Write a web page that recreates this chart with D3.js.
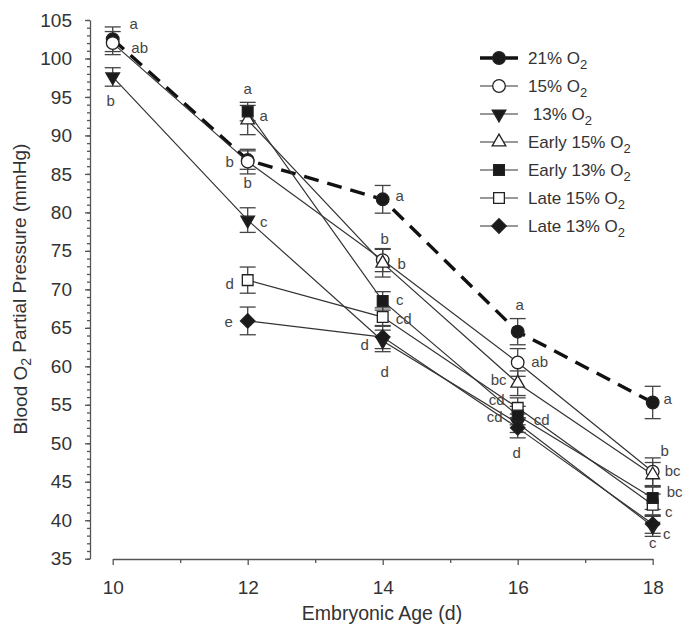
<!DOCTYPE html>
<html>
<head>
<meta charset="utf-8">
<script src="https://cdn.jsdelivr.net/npm/d3@7"></script>
<style>
  body { margin: 0; background: #fff; }
  svg { font-family: Arial, "Liberation Sans", sans-serif; }
</style>
</head>
<body>
<div id="chart"></div>
<script>
// data (mean, SEM, significance letters)
const days = [10, 12, 14, 16, 18];
const yTicks = [35, 40, 45, 50, 55, 60, 65, 70, 75, 80, 85, 90, 95, 100, 105];

const o21 = [102.5, 86.8, 81.7, 64.5, 55.3];
const o15 = [102.0, 86.6, 73.8, 60.5, 46.3];
const o13 = [97.6, 79.0, 63.3, 52.6, 39.2];
const early15 = [null, 92.0, 73.4, 57.8, 45.9];
const early13 = [null, 93.1, 68.5, 53.6, 42.9];
const late15 = [null, 71.2, 66.4, 54.6, 42.0];
const late13 = [null, 65.9, 63.8, 52.0, 39.5];

const err21 = [1.6, 1.2, 1.8, 1.7, 2.1];
const err15 = [1.5, 1.6, 1.5, 1.8, 1.8];
const err13 = [1.2, 1.6, 1.4, 1.2, 1.3];
const errE15 = [null, 1.9, 1.8, 1.6, 1.6];
const errE13 = [null, 1.2, 1.2, 1.2, 1.5];
const errL15 = [null, 1.7, 1.2, 1.3, 1.4];
const errL13 = [null, 1.8, 1.5, 1.3, 1.2];

const sig21 = ["a", "b", "a", "a", "a"];
const sig15 = ["ab", "b", "b", "ab", "b"];
const sig13 = ["b", "c", "d", "cd", "c"];
const sigE15 = [null, "a", "b", "bc", "bc"];
const sigE13 = [null, "a", "c", "cd", "bc"];
const sigL15 = [null, "d", "cd", "cd", "c"];
const sigL13 = [null, "e", "d", "d", "c"];

const labels = ["21%", "15%", " 13%", "Early 15%", "Early 13%", "Late 15%", "Late 13%"];

// letter placement relative to each point (layout only)
const sigOffsets = [
  [[21, -14], [-18, 3], [17, -2], [2, -26], [15, -2]],
  [[27, 6], [0, 22], [2, -20], [22, 1], [12, -20]],
  [[-2, 25], [16, 3], [2, 32], [-23, -5], [0, 18]],
  [null, [16, -3], [19, 2], [-19, -2], [20, -3]],
  [null, [0, -22], [17, 0], [24, 5], [22, -5]],
  [null, [-18, 5], [21, 3], [-21, -7], [16, 8]],
  [null, [-19, 2], [-18, 9], [-1, 26], [14, 11]]
];

const series = [
  { label: labels[0], values: o21, errs: err21, sig: sig21, marker: "circle", fill: "#1a1a1a", dashed: true },
  { label: labels[1], values: o15, errs: err15, sig: sig15, marker: "circle", fill: "#fff" },
  { label: labels[2], values: o13, errs: err13, sig: sig13, marker: "tridown", fill: "#1a1a1a" },
  { label: labels[3], values: early15, errs: errE15, sig: sigE15, marker: "triup", fill: "#fff" },
  { label: labels[4], values: early13, errs: errE13, sig: sigE13, marker: "square", fill: "#1a1a1a" },
  { label: labels[5], values: late15, errs: errL15, sig: sigL15, marker: "square", fill: "#fff" },
  { label: labels[6], values: late13, errs: errL13, sig: sigL13, marker: "diamond", fill: "#1a1a1a" }
];
// markers are stacked in this order (late 15% sits under early 13%)
const drawOrder = [0, 1, 2, 3, 5, 4, 6];

const width = 685, height = 627;
const svg = d3.select("#chart").append("svg")
  .attr("width", width)
  .attr("height", height);

const x = d3.scaleLinear().domain([10, 18]).range([112.7, 652.7]);
const y = d3.scaleLinear().domain([35, 105]).range([558.7, 20]);

// axes
const axisColor = "#555";
svg.append("g").attr("transform", "translate(90,0)")
  .call(d3.axisLeft(y).tickValues(yTicks).tickSize(5).tickSizeOuter(0).tickPadding(13));
svg.append("g").attr("transform", "translate(90,0)")
  .call(d3.axisLeft(y).tickValues(d3.range(35, 106)).tickSize(3).tickFormat(""))
  .call(g => g.select(".domain").remove());

svg.append("g").attr("transform", "translate(0,559)")
  .call(d3.axisBottom(x).tickValues(days).tickSize(6).tickSizeOuter(0).tickPadding(16));
svg.append("g").attr("transform", "translate(0,559)")
  .call(d3.axisBottom(x).tickValues([11, 13, 15, 17]).tickSize(4).tickFormat(""))
  .call(g => g.select(".domain").remove());

svg.selectAll(".domain, .tick line").attr("stroke", axisColor).attr("stroke-width", 1.3);
svg.selectAll(".tick text").attr("fill", "#333").style("font-size", "19px");

// axis titles
svg.append("text")
  .attr("x", 382).attr("y", 620)
  .attr("text-anchor", "middle")
  .attr("fill", "#333")
  .style("font-size", "19.5px")
  .text("Embryonic Age (d)");

const yTitle = svg.append("text")
  .attr("transform", "translate(27,289) rotate(-90)")
  .attr("text-anchor", "middle")
  .attr("fill", "#333")
  .style("font-size", "19px");
yTitle.append("tspan").text("Blood O");
yTitle.append("tspan").attr("dy", "0.3em").style("font-size", "14px").text("2");
yTitle.append("tspan").attr("dy", "-0.3em").text(" Partial Pressure (mmHg)");

// markers
function markerPath(type) {
  if (type === "circle") return d3.symbol(d3.symbolCircle, 125)();
  if (type === "square") return d3.symbol(d3.symbolSquare, 115)();
  if (type === "diamond") return d3.symbol(d3.symbolSquare, 105)();
  return d3.symbol(d3.symbolTriangle, 80)();
}
function markerRotate(type) {
  if (type === "tridown") return " rotate(180)";
  if (type === "diamond") return " rotate(45)";
  return "";
}
function drawMarker(g, s, px, py) {
  g.append("path")
    .attr("d", markerPath(s.marker))
    .attr("transform", "translate(" + px + "," + py + ")" + markerRotate(s.marker))
    .attr("fill", s.fill)
    .attr("stroke", "#222")
    .attr("stroke-width", 1.3);
}

const line = d3.line()
  .defined(d => d.v !== null)
  .x(d => x(d.day))
  .y(d => y(d.v));

const pts = s => days.map((day, i) => ({ day: day, v: s.values[i], e: s.errs[i] })).filter(d => d.v !== null);

// lines
series.forEach(s => {
  svg.append("path")
    .datum(days.map((day, i) => ({ day: day, v: s.values[i] })))
    .attr("d", line)
    .attr("fill", "none")
    .attr("stroke", s.dashed ? "#111" : "#333")
    .attr("stroke-width", s.dashed ? 3.4 : 1.2)
    .attr("stroke-dasharray", s.dashed ? "15,9" : null);
});

// error bars
series.forEach(s => {
  const g = svg.append("g").attr("stroke", "#444").attr("stroke-width", 1.3);
  pts(s).forEach(d => {
    const cx = x(d.day);
    g.append("line").attr("x1", cx).attr("x2", cx).attr("y1", y(d.v - d.e)).attr("y2", y(d.v + d.e));
    g.append("line").attr("x1", cx - 8).attr("x2", cx + 8).attr("y1", y(d.v - d.e)).attr("y2", y(d.v - d.e));
    g.append("line").attr("x1", cx - 8).attr("x2", cx + 8).attr("y1", y(d.v + d.e)).attr("y2", y(d.v + d.e));
  });
});

// points
drawOrder.forEach(k => {
  const s = series[k];
  const g = svg.append("g");
  pts(s).forEach(d => drawMarker(g, s, x(d.day), y(d.v)));
});

// significance letters
series.forEach((s, si) => {
  days.forEach((day, i) => {
    if (s.values[i] === null || !s.sig[i]) return;
    const off = sigOffsets[si][i];
    svg.append("text")
      .attr("x", x(day) + off[0])
      .attr("y", y(s.values[i]) + off[1] + 4)
      .attr("text-anchor", "middle")
      .attr("fill", "#444")
      .style("font-size", "15px")
      .text(s.sig[i]);
  });
});

// legend
const legend = svg.append("g");
series.forEach((s, i) => {
  const ly = 58 + i * 28;
  legend.append("line")
    .attr("x1", 480).attr("x2", 518).attr("y1", ly).attr("y2", ly)
    .attr("stroke", s.dashed ? "#111" : "#333")
    .attr("stroke-width", s.dashed ? 3.4 : 1.2);
  drawMarker(legend, s, 499, ly);
  const t = legend.append("text")
    .attr("x", 528).attr("y", ly + 6)
    .attr("fill", "#333")
    .style("font-size", "17px")
    .style("white-space", "pre")
    .attr("xml:space", "preserve");
  t.append("tspan").text(s.label + " O");
  t.append("tspan").attr("dy", "0.35em").style("font-size", "13px").text("2");
});
</script>
</body>
</html>
